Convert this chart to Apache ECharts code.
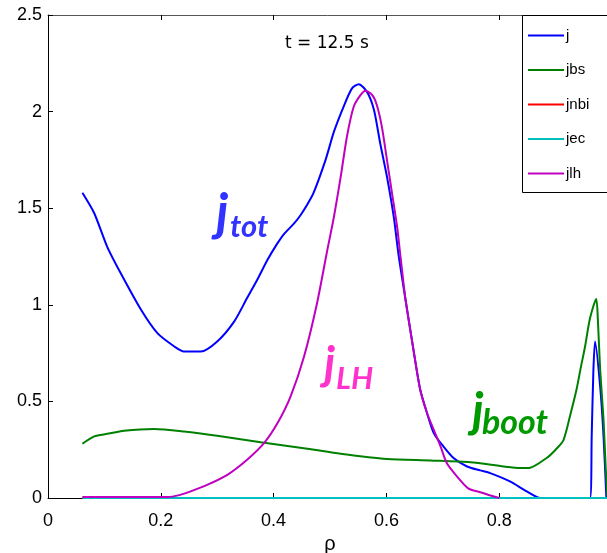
<!DOCTYPE html>
<html>
<head>
<meta charset="utf-8">
<script src="https://cdn.jsdelivr.net/npm/echarts@6/dist/echarts.min.js"></script>
<style>
html,body{margin:0;padding:0;background:#fff;}
#chart{width:607px;height:553px;}
</style>
</head>
<body>
<div id="chart"></div>
<script>
// ---- data ----
var seriesNames = ['j', 'jbs', 'jnbi', 'jec', 'jlh'];
var seriesColors = ['#0000ff', '#008000', '#ff0000', '#00bfbf', '#bf00bf'];

var rhoJ = [0.061,0.082,0.105,0.129,0.165,0.194,0.224,0.241,0.271,0.300,0.330,0.353,0.371,0.389,0.405,0.418,0.436,0.448,0.460,0.471,0.492,0.507,0.524,0.539,0.551,0.566,0.578,0.589,0.601,0.613,0.622,0.634,0.648,0.660,0.672,0.684,0.701,0.719,0.743,0.766,0.784,0.819,0.849,0.873,0.961,0.964,0.967,0.970,0.979,0.985,0.990];
var valJ = [1.58,1.474,1.30,1.163,0.974,0.853,0.784,0.758,0.758,0.81,0.913,1.035,1.13,1.232,1.31,1.365,1.42,1.465,1.52,1.58,1.749,1.896,2.025,2.12,2.142,2.10,2.008,1.836,1.663,1.456,1.249,1.025,0.767,0.56,0.44,0.336,0.267,0.207,0.163,0.143,0.129,0.086,0.034,0,0,0.32,0.66,0.81,0.577,0.319,0];

var rhoJbs = [0.061,0.082,0.105,0.135,0.188,0.241,0.300,0.377,0.460,0.519,0.601,0.678,0.749,0.808,0.838,0.855,0.884,0.900,0.914,0.926,0.937,0.945,0.952,0.961,0.972,0.975,0.979,0.985,0.989,0.992];
var valJbs = [0.281,0.319,0.332,0.348,0.357,0.344,0.322,0.288,0.255,0.229,0.202,0.194,0.185,0.163,0.155,0.157,0.207,0.25,0.30,0.43,0.56,0.68,0.78,0.93,1.03,0.92,0.663,0.405,0.146,0];

var rhoJnbi = [0.061,0.995];
var valJnbi = [0,0];

var rhoJec = [0.061,0.995];
var valJec = [0,0];

var rhoJlh = [0.061,0.212,0.233,0.253,0.283,0.318,0.353,0.383,0.407,0.430,0.454,0.477,0.495,0.507,0.519,0.530,0.542,0.554,0.563,0.575,0.583,0.592,0.601,0.610,0.619,0.625,0.634,0.648,0.660,0.672,0.684,0.696,0.707,0.725,0.745,0.766,0.780,0.800];
var valJlh = [0.005,0.005,0.015,0.034,0.069,0.12,0.198,0.284,0.388,0.525,0.732,1.008,1.28,1.456,1.663,1.87,2.025,2.085,2.108,2.085,2.034,1.921,1.749,1.577,1.404,1.249,1.025,0.767,0.56,0.44,0.353,0.267,0.181,0.112,0.05,0.03,0.017,0];

var xTicks = [0, 0.2, 0.4, 0.6, 0.8, 1];
var yTicks = [0, 0.5, 1, 1.5, 2, 2.5];
var titleText = 't = 12.5 s';

function zip(xs, ys) { return xs.map(function (x, i) { return [x, ys[i]]; }); }
var allX = [rhoJ, rhoJbs, rhoJnbi, rhoJec, rhoJlh];
var allY = [valJ, valJbs, valJnbi, valJec, valJlh];

var chart = echarts.init(document.getElementById('chart'), null, {renderer: 'canvas'});
var labelFont = '"Liberation Sans", Arial, sans-serif';
var annFont = 'Lato, "Open Sans", sans-serif';

var series = seriesNames.map(function (name, i) {
  return {
    name: name,
    type: 'line',
    data: zip(allX[i], allY[i]),
    symbol: 'none',
    smooth: 0.25,
    clip: true,
    lineStyle: {color: seriesColors[i], width: 2},
    itemStyle: {color: seriesColors[i]},
    emphasis: {disabled: true},
    animation: false
  };
});

function annot(x, y, text, size, color) {
  return {
    type: 'text', left: x, top: y, z: 100,
    style: {text: text, fill: color, font: 'italic bold ' + size + 'px ' + annFont}
  };
}

var option = {
  animation: false,
  backgroundColor: '#fff',
  grid: {left: 48, top: 15, width: 564, height: 483, containLabel: false, outerBoundsMode: 'none'},
  title: {
    text: titleText, left: 280, top: 30,
    textStyle: {fontFamily: '"DejaVu Sans", sans-serif', fontSize: 17, fontWeight: 'normal', color: '#000'}
  },
  legend: {
    orient: 'vertical', left: 522, top: 15, z: 20,
    padding: [13, 10, 15, 5],
    itemGap: 19.5, itemWidth: 36, itemHeight: 14,
    borderWidth: 0,
    selectedMode: false,
    itemStyle: {opacity: 0},
    textStyle: {fontFamily: labelFont, fontSize: 15, color: '#000', padding: [0, 0, 0, -3]},
    data: seriesNames
  },
  xAxis: [{
    type: 'value', min: 0, max: 1, interval: 0.2,
    name: 'ρ', nameLocation: 'middle', nameGap: 34,
    nameTextStyle: {fontFamily: labelFont, fontSize: 20, color: '#000'},
    axisLine: {show: true, onZero: false, lineStyle: {color: '#000', width: 1}},
    axisTick: {show: true, inside: true, length: 5, lineStyle: {color: '#000'}},
    axisLabel: {fontFamily: labelFont, fontSize: 18, color: '#000', margin: 14,
      formatter: function (v) { return String(Math.round(v * 10) / 10); }},
    splitLine: {show: false}
  }, {
    type: 'value', min: 0, max: 1, interval: 0.2, position: 'top',
    axisLine: {show: true, onZero: false, lineStyle: {color: '#555', width: 1}},
    axisTick: {show: true, inside: true, length: 5, lineStyle: {color: '#000'}},
    axisLabel: {show: false},
    splitLine: {show: false}
  }],
  yAxis: {
    type: 'value', min: 0, max: 2.5, interval: 0.5,
    axisLine: {show: true, onZero: false, lineStyle: {color: '#000', width: 1}},
    axisTick: {show: true, inside: true, length: 5, lineStyle: {color: '#000'}},
    axisLabel: {fontFamily: labelFont, fontSize: 18, color: '#000', margin: 6,
      formatter: function (v) { return String(v); }},
    splitLine: {show: false}
  },
  series: series,
  graphic: [
    {type: 'rect', left: 522, top: 15, z: 15,
      shape: {width: 110, height: 177},
      style: {fill: '#fff', stroke: '#000', lineWidth: 1}},
    annot(216, 188, 'j', 51, '#3333ff'),
    annot(230, 211, 'tot', 31, '#3333ff'),
    annot(324, 341, 'j', 46, '#ff33cc'),
    annot(336, 363, 'LH', 31, '#ff33cc'),
    annot(472, 388, 'j', 48, '#009900'),
    annot(482, 406, 'boot', 34, '#009900')
  ]
};
chart.setOption(option);
</script>
</body>
</html>
